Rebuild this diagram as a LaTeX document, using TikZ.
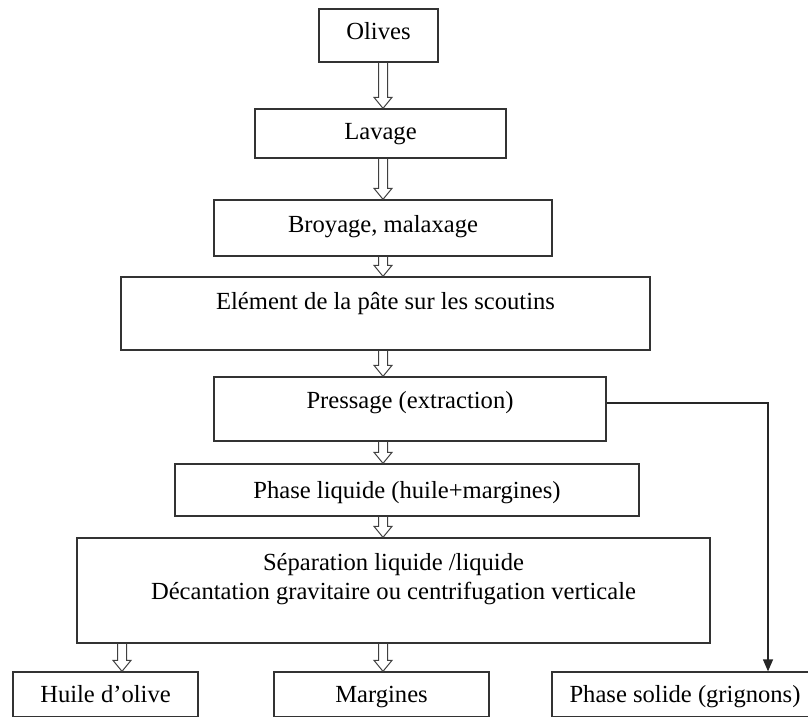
\documentclass[tikz,border=0pt]{standalone}
\usepackage{fontspec}
\setmainfont{Liberation Serif}
\usetikzlibrary{calc,arrows.meta}
\tikzset{
  box/.style={draw=black!80, line width=1.3pt, rectangle, inner sep=0pt},
  txt/.style={anchor=base, inner sep=0pt, font=\fontsize{24.6}{29}\selectfont, text=black},
  harrowline/.style={draw=black!75, line width=1pt, line join=miter},
  conn/.style={draw=black!85, line width=1.3pt, -{Triangle[width=10pt,length=12pt]}}
}
\newcommand\harrow[3]{%
  \path[harrowline] let \p1=(#2.south), \p2=(#3.north), \p3=(#1,0) in
    (\x3-4.5pt,\y1) -- (\x3-4.5pt,\y2+11pt) -- (\x3-9pt,\y2+11pt) -- (\x3,\y2)
    -- (\x3+9pt,\y2+11pt) -- (\x3+4.5pt,\y2+11pt) -- (\x3+4.5pt,\y1);}
\newcommand\bx[5]{% name, x1, y1, x2, y2
  \node[box, minimum width={(#4-#2)*1pt}, minimum height={(#5-#3)*1pt}] (#1) at ({(#2+#4)/2},{(#3+#5)/2}) {};}
\begin{document}
\begin{tikzpicture}[x=1pt,y=-1pt]
\useasboundingbox (0,0) rectangle (808,717);
\clip (0,0) rectangle (808,717);
\fill[white] (0,0) rectangle (808,717);
% boxes
\bx{olives}{319}{9}{438}{62}
\bx{lavage}{255}{109}{506}{158}
\bx{broyage}{214}{200}{552}{256}
\bx{element}{121}{277}{650}{350}
\bx{pressage}{214}{377}{606}{441}
\bx{phase}{175}{464}{639}{516}
\bx{sep}{77}{538}{710}{643}
\bx{huile}{13}{672}{198}{717}
\bx{marg}{274}{672}{489}{717}
\bx{solide}{552}{672}{822}{717}
% texts
\node[txt] (t1) at (378.5,40) {Olives};
\node[txt] (t2) at (380.5,139) {Lavage};
\node[txt] (t3) at (383,232) {Broyage, malaxage};
\node[txt] (t4) at (385.5,309) {Elément de la pâte sur les scoutins};
\node[txt] (t5) at (410,408) {Pressage (extraction)};
\node[txt] (t6) at (407,498) {Phase liquide (huile+margines)};
\node[txt] (t7) at (393.5,570) {Séparation liquide /liquide};
\node[txt] (t8) at (393.5,599) {Décantation gravitaire ou centrifugation verticale};
\node[txt] (t9) at (105.5,702) {Huile d’olive};
\node[txt] (t10) at (381.5,702) {Margines};
\node[txt] (t11) at (685,702) {Phase solide (grignons)};
% hollow arrows
\harrow{383}{olives}{lavage}
\harrow{383}{lavage}{broyage}
\harrow{383}{broyage}{element}
\harrow{383}{element}{pressage}
\harrow{383}{pressage}{phase}
\harrow{383}{phase}{sep}
\harrow{122}{sep}{huile}
\harrow{383}{sep}{marg}
% connector
\coordinate (corner) at (768,403);
\draw[conn] (pressage.east |- corner) -- (corner) -- (corner |- solide.north);
\end{tikzpicture}
\end{document}
